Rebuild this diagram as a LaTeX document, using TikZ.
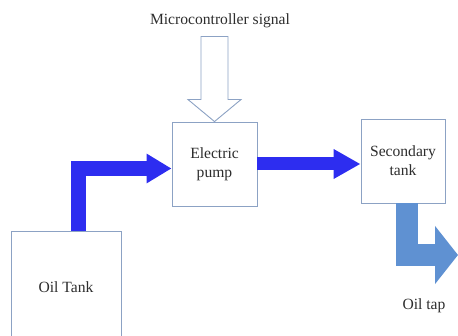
\documentclass[tikz,border=0pt]{standalone}
\usepackage{fontspec}
\setmainfont{Liberation Serif}
\usetikzlibrary{arrows.meta, positioning, calc}
\definecolor{boxline}{RGB}{140,162,196}
\definecolor{textgrey}{RGB}{45,45,45}
\definecolor{flowblue}{RGB}{45,45,240}
\definecolor{tapblue}{RGB}{95,145,210}
\tikzset{
  box/.style={rectangle, draw=boxline, fill=white, line width=0.9pt,
    align=center, text=textgrey, font=\rmfamily\fontsize{15.6}{19}\selectfont, inner sep=0pt},
  lbl/.style={text=textgrey, font=\rmfamily\fontsize{15.6}{19}\selectfont, inner sep=0pt},
  flow/.style={color=flowblue, line join=miter, line cap=butt},
  hollow/.style={draw=boxline, fill=white, line width=0.9pt, line join=miter}
}
\begin{document}
\begin{tikzpicture}[x=1pt, y=-1pt]
\useasboundingbox (0,0) rectangle (458,336);
\node[box, minimum width=110pt, minimum height=112pt] (tank) at (66,287) {Oil Tank};
\node[box, minimum width=85pt, minimum height=84pt] (pump) at (214.5,164) {Electric\\pump};
\node[box, minimum width=84pt, minimum height=84pt] (second) at (403,161) {Secondary\\tank};
\node[lbl] (signal) at (220,21) {Microcontroller signal};
\node[lbl] (tap) at (424,306) {Oil tap};
\coordinate (tapend) at (458,255);

% oil flow
\draw[flow, line width=15pt, -{Triangle[length=25pt, width=28pt]}]
  ([xshift=12.5pt]tank.north) |- ([yshift=-4.5pt]pump.west);
\draw[flow, line width=13pt, -{Triangle[length=27pt, width=28pt]}]
  (pump.east) -- (pump.east -| second.west);
\draw[flow, color=tapblue, line width=22pt, -{Triangle[length=23pt, width=57pt]}]
  ([xshift=4pt]second.south) |- (tapend);

% control signal
\draw[hollow] (pump.north) -- ++(-26.5,-22) -- ++(13,0) -- ++(0,-63)
  -- ++(27,0) -- ++(0,63) -- ++(13,0) -- cycle;
\end{tikzpicture}
\end{document}
